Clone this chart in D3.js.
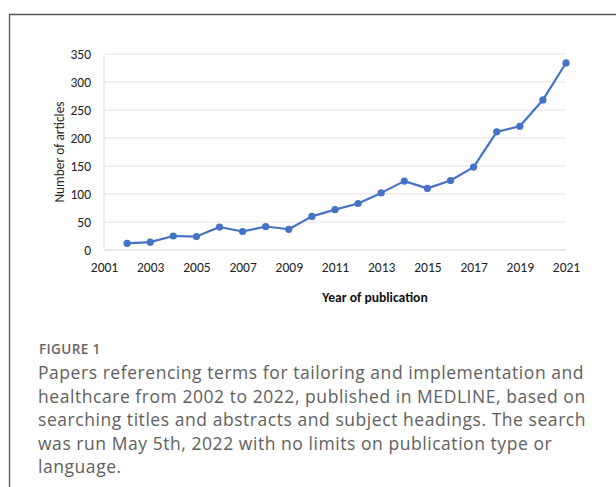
<!DOCTYPE html>
<html>
<head>
<meta charset="utf-8">
<script src="https://d3js.org/d3.v7.min.js"></script>
<style>
  body { margin: 0; background: #fff; }
  svg { display: block; }
</style>
</head>
<body>
<svg id="chart" width="616" height="487"></svg>
<script>
// publication counts
const years = [2002, 2003, 2004, 2005, 2006, 2007, 2008, 2009, 2010, 2011,
               2012, 2013, 2014, 2015, 2016, 2017, 2018, 2019, 2020, 2021];
const articles = [12, 14, 25, 24, 41, 33, 42, 37, 60, 72,
                  83, 102, 123, 110, 124, 148, 211, 221, 268, 334];
const xTicks = [2001, 2003, 2005, 2007, 2009, 2011, 2013, 2015, 2017, 2019, 2021];
const yTicks = [0, 50, 100, 150, 200, 250, 300, 350];
const caption = [
  "Papers referencing terms for tailoring and implementation and",
  "healthcare from 2002 to 2022, published in MEDLINE, based on",
  "searching titles and abstracts and subject headings. The search",
  "was run May 5th, 2022 with no limits on publication type or",
  "language."
];

const svg = d3.select("#chart");
const axisFont = "Carlito, Calibri, 'Liberation Sans', sans-serif";

// outer frame (left + top edges visible)
svg.append("path")
  .attr("d", "M9.5,487 V14.5 H616")
  .attr("fill", "none")
  .attr("stroke", "#555")
  .attr("stroke-width", 1.3);

const x = d3.scaleLinear().domain([2001, 2021]).range([104, 566]);
const y = d3.scaleLinear().domain([0, 350]).range([250, 54]);

// gridlines
svg.append("g")
  .selectAll("line")
  .data(yTicks)
  .join("line")
  .attr("x1", x(2001)).attr("x2", x(2021))
  .attr("y1", d => y(d)).attr("y2", d => y(d))
  .attr("stroke", d => d === 0 ? "#d0d0d0" : "#e2e2e2")
  .attr("stroke-width", 1);

svg.append("line")
  .attr("x1", x(2001)).attr("x2", x(2001))
  .attr("y1", y(0)).attr("y2", y(350))
  .attr("stroke", "#e2e2e2");

// y axis
const yAxis = d3.axisLeft(y).tickValues(yTicks).tickSize(0).tickPadding(13);
svg.append("g")
  .attr("transform", `translate(${x(2001)},0)`)
  .call(yAxis)
  .call(g => g.select(".domain").remove())
  .selectAll("text")
  .attr("font-family", axisFont)
  .attr("font-size", 13.5)
  .attr("fill", "#222");

// x axis
const xAxis = d3.axisBottom(x).tickValues(xTicks).tickFormat(d3.format("d")).tickSize(0).tickPadding(12);
svg.append("g")
  .attr("transform", `translate(0,${y(0)})`)
  .call(xAxis)
  .call(g => g.select(".domain").remove())
  .selectAll("text")
  .attr("font-family", axisFont)
  .attr("font-size", 13.5)
  .attr("fill", "#222");

// axis titles
svg.append("text")
  .attr("transform", `translate(64,${(y(0) + y(350)) / 2}) rotate(-90)`)
  .attr("text-anchor", "middle")
  .attr("font-family", axisFont)
  .attr("font-size", 13.4)
  .attr("fill", "#222")
  .text("Number of articles");

svg.append("text")
  .attr("x", 375)
  .attr("y", 302)
  .attr("text-anchor", "middle")
  .attr("font-family", axisFont)
  .attr("font-size", 13.6)
  .attr("font-weight", "bold")
  .attr("fill", "#111")
  .text("Year of publication");

// series
const line = d3.line()
  .x((d, i) => x(years[i]))
  .y(d => y(d));

svg.append("path")
  .datum(articles)
  .attr("d", line)
  .attr("fill", "none")
  .attr("stroke", "#4472C4")
  .attr("stroke-width", 2.2)
  .attr("stroke-linejoin", "round");

svg.append("g")
  .selectAll("circle")
  .data(articles)
  .join("circle")
  .attr("cx", (d, i) => x(years[i]))
  .attr("cy", d => y(d))
  .attr("r", 3.6)
  .attr("fill", "#4472C4");

// caption
svg.append("text")
  .attr("x", 39)
  .attr("y", 354)
  .attr("font-family", "'Open Sans', sans-serif")
  .attr("font-size", 13.5)
  .attr("font-weight", 600)
  .attr("letter-spacing", 0.4)
  .attr("fill", "#666")
  .text("FIGURE 1");

svg.append("g")
  .selectAll("text")
  .data(caption)
  .join("text")
  .attr("x", 38)
  .attr("y", (d, i) => 379 + i * 23.6)
  .attr("font-family", "'Open Sans', sans-serif")
  .attr("font-size", 17.5)
  .attr("letter-spacing", 0.55)
  .attr("fill", "#606060")
  .text(d => d);
</script>
</body>
</html>
